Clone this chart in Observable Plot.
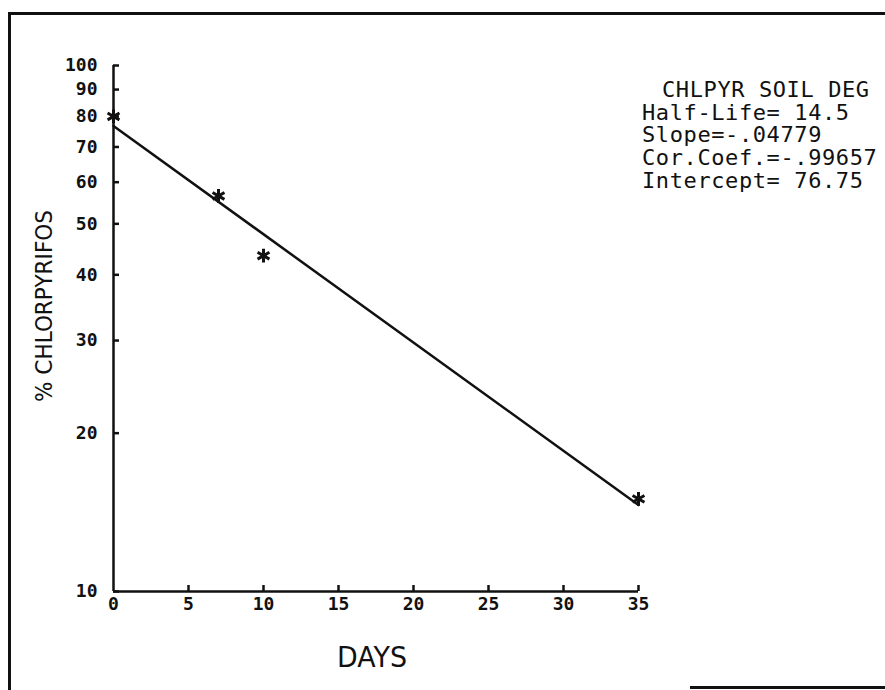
<!DOCTYPE html>
<html><head><meta charset="utf-8">
<script src="https://cdn.jsdelivr.net/npm/d3@7"></script>
<script src="https://cdn.jsdelivr.net/npm/@observablehq/plot@0.6"></script>
<style>
html,body{margin:0;padding:0;background:#fff;}
#wrap{position:relative;width:885px;height:690px;overflow:hidden;background:#fff;}
.edge{position:absolute;background:#111;}
</style></head><body><div id="wrap"></div>
<script>
// Measured data (days, % chlorpyrifos remaining)
const days = [0, 7, 10, 35];
const percent = [80, 56.5, 43.5, 15];
// Fitted regression line end points as drawn (log-linear, so straight on log axis)
const fitDays = [0, 35];
const fitPercent = [76.75, 14.6];
// Axis ticks
const xTicks = [0, 5, 10, 15, 20, 25, 30, 35];
const yTicks = [10, 20, 30, 40, 50, 60, 70, 80, 90, 100];
// Labels
const xLabel = "DAYS";
const yLabel = "% CHLORPYRIFOS";
const statLines = ["CHLPYR SOIL DEG", "Half-Life= 14.5", "Slope=-.04779", "Cor.Coef.=-.99657", "Intercept= 76.75"];

const points = days.map((d, i) => ({day: d, pct: percent[i]}));
const fit = fitDays.map((d, i) => ({day: d, pct: fitPercent[i]}));

const tickFont = {fontFamily: "DejaVu Sans Mono", fontWeight: "bold", fontSize: 18};

const chart = Plot.plot({
  width: 885,
  height: 690,
  marginLeft: 113,
  marginRight: 247,
  marginTop: 65,
  marginBottom: 99,
  style: {background: "#fff", color: "#111", fontFamily: "DejaVu Sans Mono", overflow: "visible"},
  x: {domain: [0, 35], label: null},
  y: {type: "log", domain: [10, 100], label: null},
  marks: [
    // axis baselines
    Plot.ruleX([0], {stroke: "#111", strokeWidth: 2.5}),
    Plot.ruleY([10], {stroke: "#111", strokeWidth: 2.5}),
    // y axis: inward ticks + labels
    Plot.axisY(yTicks, {tickSize: 6, dx: 6, text: null, stroke: "#111", strokeWidth: 2.5}),
    Plot.axisY(yTicks, {tickSize: 0, tickPadding: 16, tickFormat: d => String(d), ...tickFont, fill: "#111", letterSpacing: "0.5px"}),
    // x axis: inward ticks + labels
    Plot.axisX(xTicks.slice(1), {tickSize: 6, dy: -6, text: null, stroke: "#111", strokeWidth: 2.5}),
    Plot.axisX(xTicks, {tickSize: 0, tickPadding: 6, tickFormat: d => String(d), ...tickFont, fill: "#111", letterSpacing: "0.5px"}),
    // regression line
    Plot.line(fit, {x: "day", y: "pct", stroke: "#111", strokeWidth: 2.5}),
    // observations
    Plot.dot(points, {x: "day", y: "pct", symbol: "asterisk", r: 6.5, stroke: "#111", strokeWidth: 3})
  ]
});

document.getElementById("wrap").appendChild(chart);

const svg = d3.select(chart);
// statistics block
const stat = svg.append("g")
  .attr("font-family", "DejaVu Sans Mono")
  .attr("font-size", 22)
  .attr("letter-spacing", "0.6px")
  .attr("text-anchor", "start")
  .attr("fill", "#111");
statLines.forEach((s, i) => {
  stat.append("text")
    .attr("x", i === 0 ? 662 : 642)
    .attr("y", 97 + i * 22.7)
    .attr("text-anchor", "start")
    .text(s);
});
// axis titles
svg.append("text")
  .attr("transform", "translate(52,306) rotate(-90)")
  .attr("text-anchor", "middle")
  .attr("font-family", "DejaVu Sans")
  .attr("font-size", 23)
  .attr("fill", "#111")
  .attr("textLength", 192)
  .attr("lengthAdjust", "spacingAndGlyphs")
  .text(yLabel);
svg.append("text")
  .attr("x", 372)
  .attr("y", 667)
  .attr("text-anchor", "middle")
  .attr("font-family", "DejaVu Sans")
  .attr("font-size", 28)
  .attr("fill", "#111")
  .attr("textLength", 70)
  .attr("lengthAdjust", "spacingAndGlyphs")
  .text(xLabel);

// page frame
const wrap = document.getElementById("wrap");
[[9, 12, 876, 3], [8, 12, 3, 678], [690, 686, 195, 3]].forEach(([l, t, w, h]) => {
  const e = document.createElement("div");
  e.className = "edge";
  e.style.cssText = `left:${l}px;top:${t}px;width:${w}px;height:${h}px;`;
  wrap.appendChild(e);
});
</script></body></html>
